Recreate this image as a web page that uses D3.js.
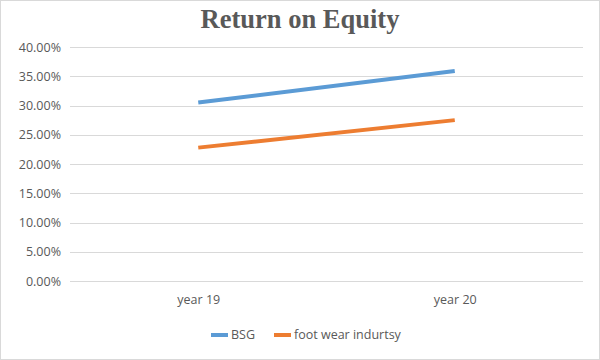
<!DOCTYPE html>
<html>
<head>
<meta charset="utf-8">
<script src="https://cdn.jsdelivr.net/npm/d3@7"></script>
<style>
  body { margin: 0; background: #fff; }
  text { fill: #595959; }
</style>
</head>
<body>
<svg id="chart"></svg>
<script>
var years = ["year 19", "year 20"];
var bsg = [0.305, 0.359];
var footwear = [0.228, 0.275];
var seriesNames = ["BSG", "foot wear indurtsy"];
var seriesColors = ["#5B9BD5", "#ED7D31"];
var yTicks = [0, 0.05, 0.10, 0.15, 0.20, 0.25, 0.30, 0.35, 0.40];

var size = {
    width: 600,
    height: 360,
    top: 47,
    bottom: 79,
    left: 70,
    right: 17
};

var labelFont = "'Open Sans', Carlito, 'DejaVu Sans', sans-serif";

var svg = d3.select("#chart")
    .attr("width", size.width)
    .attr("height", size.height);

// chart border
svg.append("rect")
    .attr("x", 0.5).attr("y", 0.5)
    .attr("width", size.width - 1).attr("height", size.height - 1)
    .attr("fill", "#fff")
    .attr("stroke", "#d9d9d9");

// title
svg.append("text")
    .attr("x", size.width / 2)
    .attr("y", 28)
    .attr("text-anchor", "middle")
    .style("font-family", "'Liberation Serif', 'Times New Roman', serif")
    .style("font-weight", "bold")
    .style("font-size", "26.5px")
    .text("Return on Equity");

var x = d3.scalePoint()
    .domain(years)
    .range([size.left, size.width - size.right])
    .padding(0.5);

var y = d3.scaleLinear()
    .domain([0, 0.40])
    .range([size.height - size.bottom, size.top]);

// gridlines
svg.append("g")
    .selectAll("line")
    .data(yTicks)
    .enter()
    .append("line")
    .attr("x1", size.left)
    .attr("x2", size.width - size.right)
    .attr("y1", d => Math.round(y(d)) + 0.5)
    .attr("y2", d => Math.round(y(d)) + 0.5)
    .attr("stroke", "#d9d9d9")
    .attr("stroke-width", 1);

// y axis labels
var yAxis = d3.axisLeft(y)
    .tickValues(yTicks)
    .tickFormat(d3.format(".2%"))
    .tickSize(0)
    .tickPadding(9);
svg.append("g")
    .attr("class", "y-axis")
    .attr("transform", "translate(" + size.left + ",0)")
    .call(yAxis)
    .call(g => g.select(".domain").remove());

// x axis labels
var xAxis = d3.axisBottom(x).tickSize(0).tickPadding(14);
svg.append("g")
    .attr("class", "x-axis")
    .attr("transform", "translate(0," + (size.height - size.bottom) + ")")
    .call(xAxis)
    .call(g => g.select(".domain").remove());

svg.selectAll(".y-axis text, .x-axis text")
    .style("font-family", labelFont)
    .style("font-size", "12.5px")
    .attr("fill", "#595959");

// lines
var line = d3.line()
    .x((d, i) => x(years[i]))
    .y(d => y(d));

[bsg, footwear].forEach(function(values, i) {
    svg.append("path")
        .datum(values)
        .attr("d", line)
        .attr("fill", "none")
        .attr("stroke", seriesColors[i])
        .attr("stroke-width", 4)
        .attr("stroke-linecap", "butt");
});

// legend
var legendX = [211, 274];
var legend = svg.append("g")
    .selectAll("g")
    .data(seriesNames)
    .enter()
    .append("g")
    .attr("transform", (d, i) => "translate(" + legendX[i] + ",335)");
legend.append("line")
    .attr("x1", 0).attr("x2", 17)
    .attr("y1", 0).attr("y2", 0)
    .attr("stroke", (d, i) => seriesColors[i])
    .attr("stroke-width", 4);
legend.append("text")
    .attr("x", 20)
    .attr("y", 0)
    .attr("dy", "0.35em")
    .style("font-family", labelFont)
    .style("font-size", "12.5px")
    .text(d => d);
</script>
</body>
</html>
